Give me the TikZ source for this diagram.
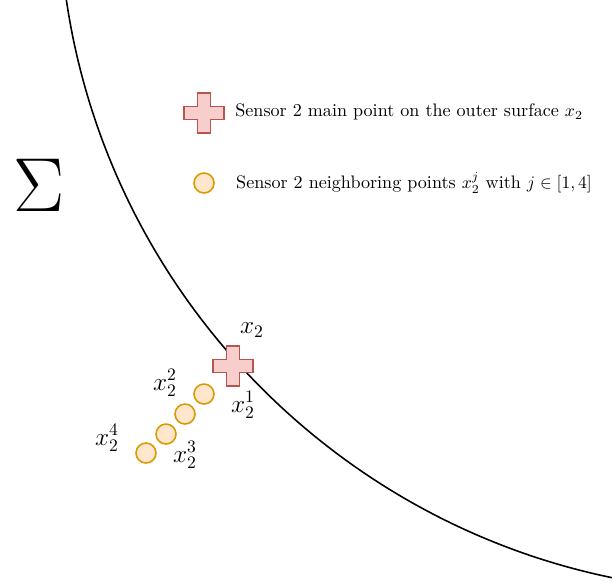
\documentclass[tikz,border=0pt]{standalone}
\usepackage{amsmath}
\usepackage{amssymb}
\usepackage{xcolor}
\usepackage{tikz}
\usetikzlibrary{positioning}

\definecolor{crossfill}{HTML}{F8CECC}
\definecolor{crossdraw}{HTML}{B85450}
\definecolor{nbfill}{HTML}{FFE6CC}
\definecolor{nbdraw}{HTML}{D79B00}

\begin{document}
\begin{tikzpicture}[
  x=0.02cm, y=-0.02cm,
  nbpt/.style={circle, draw=nbdraw, fill=nbfill, line width=0.9pt, minimum size=0.4cm, inner sep=0pt},
  ptlabel/.style={font=\Large, inner sep=1pt},
  legtext/.style={anchor=west, inner sep=0pt, font=\fontsize{10.3}{12}\selectfont},
  plusmark/.pic={
    \draw[draw=crossdraw, fill=crossfill, line width=0.9pt]
      (-20,-6.5) -- (-6.5,-6.5) -- (-6.5,-20) -- (6.5,-20) -- (6.5,-6.5) -- (20,-6.5)
      -- (20,6.5) -- (6.5,6.5) -- (6.5,20) -- (-6.5,20) -- (-6.5,6.5) -- (-20,6.5) -- cycle;
  }
]
\useasboundingbox (0,0) rectangle (612,583);

% outer surface
\begin{scope}
  \clip (0,0) rectangle (612,583);
  \draw[line width=0.9pt] (752.8,-101.9) circle [radius=13.88cm];
\end{scope}

\node[font=\Huge, scale=1.75] (sigma) at (39,185) {$\Sigma$};

% legend
\coordinate (legcross) at (204,113);
\pic at (legcross) {plusmark};
\node[legtext] (legmain) at (235,112) {Sensor 2 main point on the outer surface $x_2$};
\node[nbpt] (legnb) at (204,183) {};
\node[legtext, right=12pt of legnb] (legnbtext) {Sensor 2 neighboring points $x_2^j$ with $j \in [1,4]$};

% sensor 2 point and its neighbours
\coordinate (x2) at (233,366);
\pic at (x2) {plusmark};
\node[nbpt] (n1) at (204,394) {};
\node[nbpt] (n2) at (185,414) {};
\node[nbpt] (n3) at (166,434) {};
\node[nbpt] (n4) at (146,453) {};

\node[ptlabel] (lx2) at (252,330) {$x_2$};
\node[ptlabel] (l1) at (243,405) {$x_2^1$};
\node[ptlabel] (l2) at (165,383) {$x_2^2$};
\node[ptlabel] (l3) at (185,455) {$x_2^3$};
\node[ptlabel] (l4) at (107,438) {$x_2^4$};
\end{tikzpicture}
\end{document}
